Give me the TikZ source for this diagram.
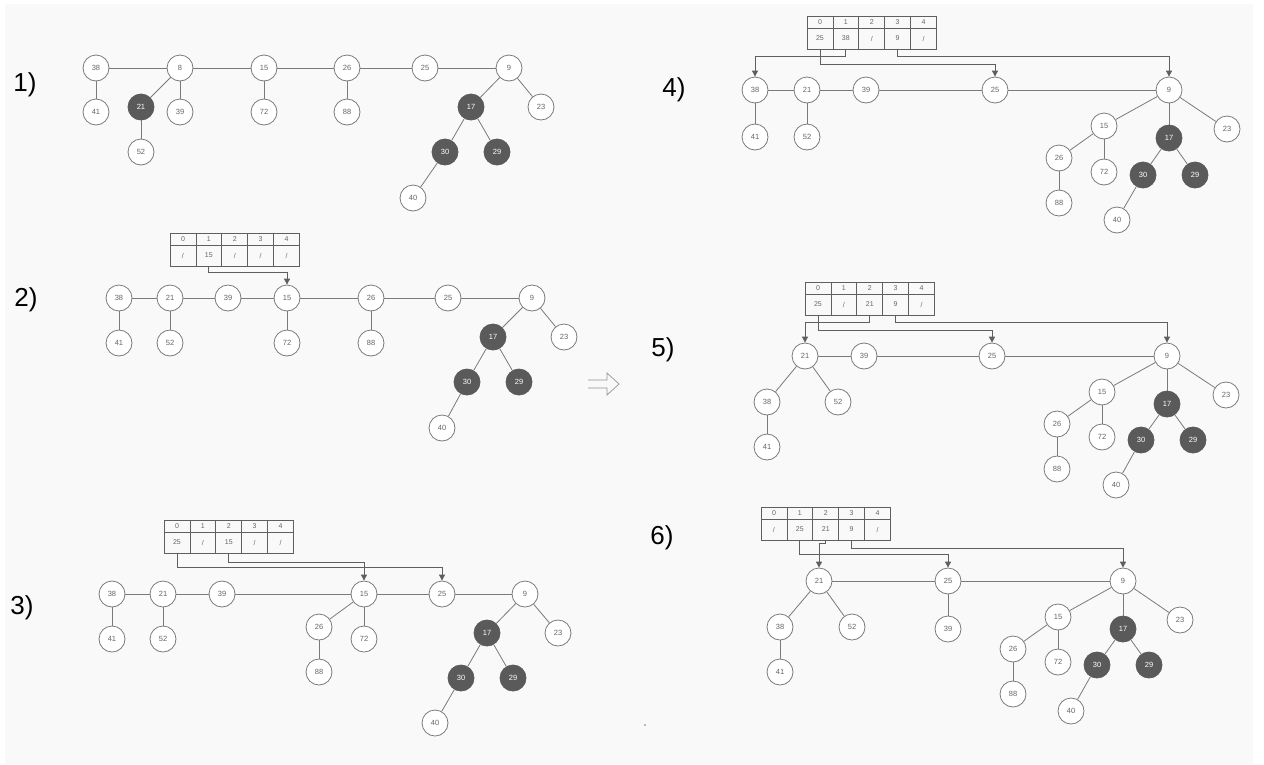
\documentclass[tikz,border=0pt]{standalone}
\usepackage{fontspec}
\setmainfont{Liberation Sans}
\usetikzlibrary{arrows.meta}

\definecolor{bggray}{HTML}{F9F9F9}
\definecolor{rimgray}{HTML}{7A7A7A}
\definecolor{darkkey}{HTML}{5A5A5A}
\definecolor{keytext}{HTML}{666666}
\definecolor{ptrgray}{HTML}{5F5F5F}

\tikzset{
  key/.style={circle, draw=rimgray, fill=white, line width=0.8pt, minimum size=26pt,
    inner sep=0pt, text=keytext, font=\fontsize{7.5}{7.5}\selectfont},
  marked/.style={key, draw=darkkey, fill=darkkey, text=white},
  link/.style={draw=rimgray, line width=0.8pt},
  ptr/.style={draw=ptrgray, line width=0.9pt, -{Triangle[length=6pt,width=6pt]}},
  slothead/.style={draw=ptrgray, line width=0.7pt, minimum width=25.9pt, minimum height=12pt,
    inner sep=0pt, text=keytext, font=\fontsize{7}{7}\selectfont},
  slotcell/.style={slothead, minimum height=21pt},
  panel/.style={font=\fontsize{26}{26}\selectfont}
}

% root table: prefix, left x, top y, slot values
\newcommand{\hashslots}[4]{%
  \foreach \v [count=\i from 0] in {#4} {
    \node[slothead] (#1h\i) at ({#2+25.9*\i+12.95}, {#3+6}) {\i};
    \node[slotcell] (#1s\i) at ({#2+25.9*\i+12.95}, {#3+22.5}) {\v};
  }}

\begin{document}
\begin{tikzpicture}[x=1pt, y=-1pt]
    \useasboundingbox (0,0) rectangle (1264,764);
    \fill[bggray] (5,4) rectangle (1253,764);

    % 1) forest
    \node[panel] (l1) at (25,85) {1)};
    \node[key] (a38) at (96,68) {38};
    \node[key] (a8) at (180,68) {8};
    \node[key] (a15) at (264,68) {15};
    \node[key] (a26) at (347,68) {26};
    \node[key] (a25) at (425,68) {25};
    \node[key] (a9) at (509,68) {9};
    \node[key] (a41) at (96,112) {41};
    \node[marked] (a21) at (141,107) {21};
    \node[key] (a39) at (180,112) {39};
    \node[key] (a72) at (264,112) {72};
    \node[key] (a88) at (347,112) {88};
    \node[marked] (a17) at (471,107) {17};
    \node[key] (a23) at (541,107) {23};
    \node[key] (a52) at (141,152) {52};
    \node[marked] (a30) at (445,152) {30};
    \node[marked] (a29) at (497,152) {29};
    \node[key] (a40) at (413,198) {40};
    \draw[link] (a38) -- (a8) -- (a15) -- (a26) -- (a25) -- (a9);
    \foreach \u/\w in {38/41, 8/21, 8/39, 21/52, 15/72, 26/88, 9/17, 9/23, 17/30, 17/29, 30/40}
        \draw[link] (a\u) -- (a\w);

    % 2) first key moved into the table
    \node[panel] (l2) at (26,300) {2)};
    \hashslots{b}{170}{233}{{/},15,{/},{/},{/}}
    \node[key] (b38) at (119,298) {38};
    \node[key] (b21) at (170,298) {21};
    \node[key] (b39) at (228,298) {39};
    \node[key] (b15) at (287,298) {15};
    \node[key] (b26) at (371,298) {26};
    \node[key] (b25) at (448,298) {25};
    \node[key] (b9) at (532,298) {9};
    \node[key] (b41) at (119,343) {41};
    \node[key] (b52) at (170,343) {52};
    \node[key] (b72) at (287,343) {72};
    \node[key] (b88) at (371,343) {88};
    \node[marked] (b17) at (493,337) {17};
    \node[key] (b23) at (564,337) {23};
    \node[marked] (b30) at (467,382) {30};
    \node[marked] (b29) at (519,382) {29};
    \node[key] (b40) at (442,428) {40};
    \draw[link] (b38) -- (b21) -- (b39) -- (b15) -- (b26) -- (b25) -- (b9);
    \foreach \u/\w in {38/41, 21/52, 15/72, 26/88, 9/17, 9/23, 17/30, 17/29, 30/40}
        \draw[link] (b\u) -- (b\w);
    \draw[ptr] (bs1.south) -- ++(0,6) -| (b15.north);

    % step arrow
    \draw[rimgray!80, line width=0.7pt, line join=miter]
        (588,380) -- (607,380) -- (607,373) -- (619,384) -- (607,395) -- (607,388) -- (588,388);

    % 3)
    \node[panel] (l3) at (22,608) {3)};
    \hashslots{c}{164}{520}{25,{/},15,{/},{/}}
    \node[key] (c38) at (112,594) {38};
    \node[key] (c21) at (163,594) {21};
    \node[key] (c39) at (222,594) {39};
    \node[key] (c15) at (364,594) {15};
    \node[key] (c25) at (442,594) {25};
    \node[key] (c9) at (525,594) {9};
    \node[key] (c41) at (112,639) {41};
    \node[key] (c52) at (163,639) {52};
    \node[key] (c26) at (319,627) {26};
    \node[key] (c72) at (364,639) {72};
    \node[key] (c88) at (319,672) {88};
    \node[marked] (c17) at (487,633) {17};
    \node[key] (c23) at (558,633) {23};
    \node[marked] (c30) at (461,678) {30};
    \node[marked] (c29) at (513,678) {29};
    \node[key] (c40) at (435,723) {40};
    \draw[link] (c38) -- (c21) -- (c39) -- (c15) -- (c25) -- (c9);
    \foreach \u/\w in {38/41, 21/52, 15/26, 15/72, 26/88, 9/17, 9/23, 17/30, 17/29, 30/40}
        \draw[link] (c\u) -- (c\w);
    \draw[ptr] (cs0.south) -- ++(0,14) -| (c25.north);
    \draw[ptr] (cs2.south) -- ++(0,9) -| (c15.north);

    % 4)
    \node[panel] (l4) at (674,90) {4)};
    \hashslots{d}{807}{16}{25,38,{/},9,{/}}
    \node[key] (d38) at (755,90) {38};
    \node[key] (d21) at (807,90) {21};
    \node[key] (d39) at (866,90) {39};
    \node[key] (d25) at (995,90) {25};
    \node[key] (d9) at (1169,90) {9};
    \node[key] (d41) at (755,137) {41};
    \node[key] (d52) at (807,137) {52};
    \node[key] (d15) at (1104,126) {15};
    \node[marked] (d17) at (1169,138) {17};
    \node[key] (d23) at (1227,129) {23};
    \node[key] (d26) at (1059,158) {26};
    \node[key] (d72) at (1104,172) {72};
    \node[marked] (d30) at (1143,175) {30};
    \node[marked] (d29) at (1195,175) {29};
    \node[key] (d88) at (1059,203) {88};
    \node[key] (d40) at (1117,220) {40};
    \draw[link] (d38) -- (d21) -- (d39) -- (d25) -- (d9);
    \foreach \u/\w in {38/41, 21/52, 9/15, 9/17, 9/23, 15/26, 15/72, 26/88, 17/30, 17/29, 30/40}
        \draw[link] (d\u) -- (d\w);
    \draw[ptr] (ds1.south) -- ++(0,7) -| (d38.north);
    \draw[ptr] (ds0.south) -- ++(0,15) -| (d25.north);
    \draw[ptr] (ds3.south) -- ++(0,7) -| (d9.north);

    % 5)
    \node[panel] (l5) at (663,350) {5)};
    \hashslots{e}{805}{282}{25,{/},21,9,{/}}
    \node[key] (e21) at (805,356) {21};
    \node[key] (e39) at (864,356) {39};
    \node[key] (e25) at (992,356) {25};
    \node[key] (e9) at (1167,356) {9};
    \node[key] (e38) at (767,402) {38};
    \node[key] (e52) at (838,402) {52};
    \node[key] (e41) at (767,447) {41};
    \node[key] (e15) at (1102,392) {15};
    \node[marked] (e17) at (1167,404) {17};
    \node[key] (e23) at (1226,395) {23};
    \node[key] (e26) at (1057,424) {26};
    \node[key] (e72) at (1102,437) {72};
    \node[marked] (e30) at (1141,440) {30};
    \node[marked] (e29) at (1193,440) {29};
    \node[key] (e88) at (1057,469) {88};
    \node[key] (e40) at (1116,485) {40};
    \draw[link] (e21) -- (e39) -- (e25) -- (e9);
    \foreach \u/\w in {21/38, 21/52, 38/41, 9/15, 9/17, 9/23, 15/26, 15/72, 26/88, 17/30, 17/29, 30/40}
        \draw[link] (e\u) -- (e\w);
    \draw[ptr] (es2.south) -- ++(0,7) -| (e21.north);
    \draw[ptr] (es0.south) -- ++(0,15) -| (e25.north);
    \draw[ptr] (es3.south) -- ++(0,7) -| (e9.north);

    % 6)
    \node[panel] (l6) at (662,538) {6)};
    \hashslots{f}{761}{507}{{/},25,21,9,{/}}
    \node[key] (f21) at (819,581) {21};
    \node[key] (f25) at (948,581) {25};
    \node[key] (f9) at (1123,581) {9};
    \node[key] (f38) at (780,627) {38};
    \node[key] (f52) at (852,627) {52};
    \node[key] (f39) at (948,629) {39};
    \node[key] (f41) at (780,672) {41};
    \node[key] (f15) at (1058,617) {15};
    \node[marked] (f17) at (1123,629) {17};
    \node[key] (f23) at (1180,620) {23};
    \node[key] (f26) at (1013,649) {26};
    \node[key] (f72) at (1058,662) {72};
    \node[marked] (f30) at (1097,665) {30};
    \node[marked] (f29) at (1149,665) {29};
    \node[key] (f88) at (1013,694) {88};
    \node[key] (f40) at (1071,711) {40};
    \draw[link] (f21) -- (f25) -- (f9);
    \foreach \u/\w in {21/38, 21/52, 38/41, 25/39, 9/15, 9/17, 9/23, 15/26, 15/72, 26/88, 17/30, 17/29, 30/40}
        \draw[link] (f\u) -- (f\w);
    \draw[ptr] (fs2.south) -- ++(0,3) -| (f21.north);
    \draw[ptr] (fs1.south) -- ++(0,14) -| (f25.north);
    \draw[ptr] (fs3.south) -- ++(0,8) -| (f9.north);

    \fill[rimgray] (645,725) circle (0.8);
\end{tikzpicture}
\end{document}
